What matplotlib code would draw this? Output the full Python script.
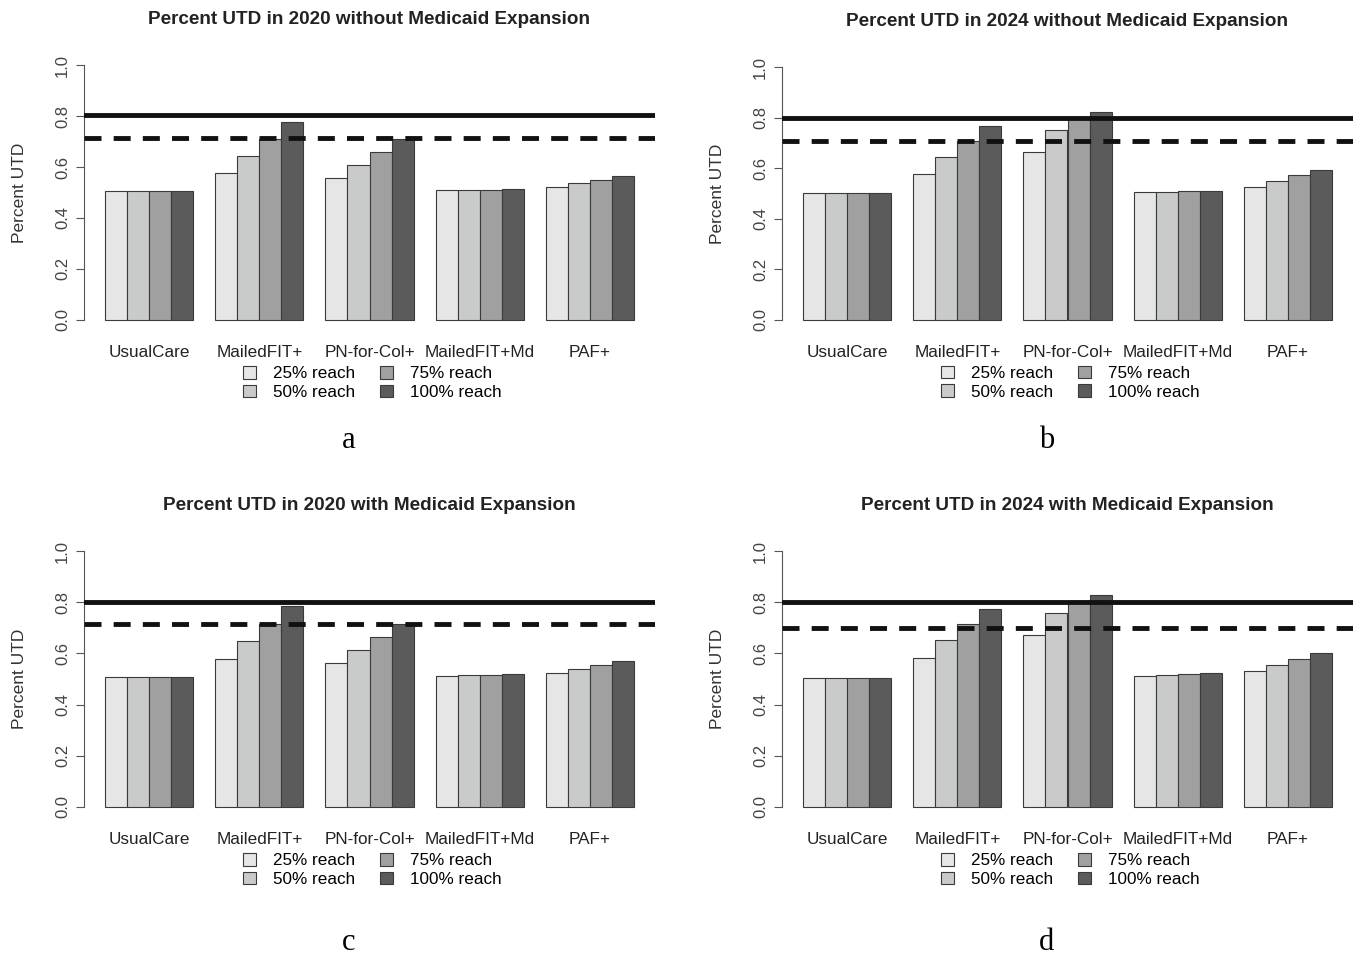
import numpy as np
import matplotlib
matplotlib.use('Agg')
from matplotlib import pyplot as plt
from matplotlib.patches import Patch

plt.rcParams['font.family'] = ['Liberation Sans Narrow', 'Liberation Sans', 'DejaVu Sans']

CATEGORIES = ['UsualCare', 'MailedFIT+', 'PN-for-Col+', 'MailedFIT+Md', 'PAF+']
REACH_LABELS = ['25% reach', '50% reach', '75% reach', '100% reach']
REACH_COLORS = ['#e6e6e6', '#c9cbca', '#a0a0a0', '#5b5b5b']

# rows = categories, columns = reach levels
utd_2020_no_exp = [[0.507, 0.507, 0.507, 0.507],
                   [0.575, 0.642, 0.710, 0.777],
                   [0.558, 0.609, 0.659, 0.710],
                   [0.508, 0.509, 0.510, 0.512],
                   [0.522, 0.537, 0.551, 0.565]]
utd_2024_no_exp = [[0.503, 0.503, 0.503, 0.503],
                   [0.576, 0.645, 0.707, 0.766],
                   [0.665, 0.752, 0.800, 0.822],
                   [0.505, 0.507, 0.509, 0.511],
                   [0.527, 0.549, 0.572, 0.594]]
utd_2020_exp = [[0.507, 0.507, 0.507, 0.507],
                [0.580, 0.648, 0.716, 0.785],
                [0.562, 0.613, 0.665, 0.717],
                [0.513, 0.515, 0.517, 0.519],
                [0.525, 0.540, 0.555, 0.570]]
utd_2024_exp = [[0.502, 0.502, 0.502, 0.502],
                [0.583, 0.651, 0.714, 0.775],
                [0.673, 0.760, 0.805, 0.830],
                [0.512, 0.515, 0.518, 0.522],
                [0.532, 0.556, 0.580, 0.602]]

solid_targets = [0.805, 0.800, 0.800, 0.800]
dashed_targets = [0.715, 0.708, 0.715, 0.700]

titles = ['Percent UTD in 2020 without Medicaid Expansion',
          'Percent UTD in 2024 without Medicaid Expansion',
          'Percent UTD in 2020 with Medicaid Expansion',
          'Percent UTD in 2024 with Medicaid Expansion']
panel_letters = ['a', 'b', 'c', 'd']
panel_data = [utd_2020_no_exp, utd_2024_no_exp, utd_2020_exp, utd_2024_exp]

W, H = 1355, 961
fig = plt.figure(figsize=(W / 100, H / 100), dpi=100)

# plot regions in pixels: (left, right, top, bottom)
regions = [(84, 655, 55, 330), (782, 1353, 57, 330),
           (84, 655, 541, 817), (782, 1353, 541, 817)]
letter_pos = [(349, 440), (1047, 440), (349, 943), (1047, 943)]


def draw_panel(ax, data, solid, dashed, title):
    data = np.asarray(data)
    # R barplot style: beside=TRUE, space=c(0,1)
    for g in range(len(CATEGORIES)):
        for k in range(len(REACH_LABELS)):
            x = 1 + g * 5 + k
            ax.bar(x, data[g, k], width=1, align='edge', color=REACH_COLORS[k],
                   edgecolor='#3a3a3a', linewidth=0.8, zorder=2)
    ax.set_xlim(0.04, 25.96)
    ax.set_ylim(-0.04, 1.04)
    ax.axhline(solid, color='#111111', lw=3.5, zorder=3)
    ax.axhline(dashed, color='#111111', lw=3.5, ls=(0, (3.5, 2.5)), zorder=3)
    for s in ['top', 'right', 'bottom']:
        ax.spines[s].set_visible(False)
    ax.spines['left'].set_bounds(0, 1)
    ax.spines['left'].set_color('#555555')
    ax.set_yticks([0, 0.2, 0.4, 0.6, 0.8, 1.0])
    ax.set_yticklabels(['0.0', '0.2', '0.4', '0.6', '0.8', '1.0'], rotation=90,
                       va='center', family=['Liberation Sans', 'DejaVu Sans'],
                       fontsize=12, color='#444444')
    ax.tick_params(axis='y', length=6, width=0.8, color='#555555', pad=4)
    ax.set_xticks([1 + g * 5 + 2 for g in range(len(CATEGORIES))])
    ax.set_xticklabels(CATEGORIES, fontsize=12.3, color='#222222')
    ax.tick_params(axis='x', length=0, pad=11)
    ax.set_ylabel('Percent UTD', fontsize=12.5, color='#333333',
                  family=['Liberation Sans', 'DejaVu Sans'], labelpad=20)
    ax.set_title(title, fontsize=13.6, fontweight='bold', color='#222222', pad=22)
    handles = [Patch(facecolor=c, edgecolor='#3a3a3a', linewidth=0.8) for c in REACH_COLORS]
    ax.legend(handles, REACH_LABELS, ncol=2, loc='upper center',
              bbox_to_anchor=(0.505, -0.1), frameon=False, fontsize=12.3,
              handlelength=0.75, handleheight=0.75, handletextpad=1.0,
              columnspacing=1.5, labelspacing=0.2, borderpad=0)


for i in range(4):
    l, r, t, b = regions[i]
    ax = fig.add_axes([l / W, 1 - b / H, (r - l) / W, (b - t) / H])
    draw_panel(ax, panel_data[i], solid_targets[i], dashed_targets[i], titles[i])
    lx, ly = letter_pos[i]
    fig.text(lx / W, 1 - ly / H, panel_letters[i], ha='center', va='center',
             fontsize=22, family=['Liberation Serif', 'DejaVu Serif'])

fig.savefig('out.png', dpi=100, facecolor='white')
